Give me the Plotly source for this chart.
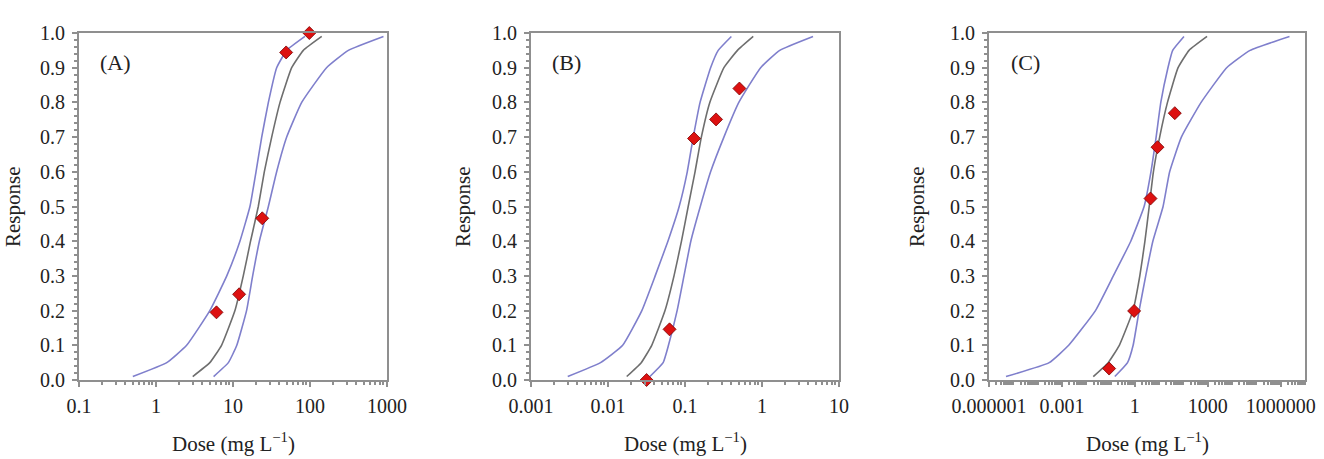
import plotly.graph_objects as go

# Response levels at which the fitted / confidence curves are tabulated
levels = [0.01, 0.05, 0.1, 0.2, 0.3, 0.4, 0.5, 0.6, 0.7, 0.8, 0.9, 0.95, 0.99]

# Panel A
a_obs_dose = [6.1, 12.0, 24.0, 49.0, 98.0]
a_obs_resp = [0.195, 0.247, 0.466, 0.944, 1.0]
a_fit = [3.0, 5.0, 7.1, 10.6, 13.6, 16.9, 21.3, 25.5, 31.8, 40.8, 57.8, 82.0, 142.0]
a_lower = [0.50, 1.38, 2.5, 5.0, 8.3, 12.3, 16.6, 19.9, 23.6, 28.8, 36.9, 49.8, 86.0]
a_upper = [5.6, 8.7, 11.2, 15.0, 18.0, 22.0, 28.8, 36.9, 49.8, 78.0, 164.0, 315.0, 900.0]

# Panel B
b_obs_dose = [0.0317, 0.063, 0.131, 0.253, 0.509]
b_obs_resp = [0.0, 0.146, 0.696, 0.751, 0.840]
b_fit = [0.0175, 0.027, 0.037, 0.055, 0.072, 0.090, 0.110, 0.135, 0.163, 0.21, 0.32, 0.48, 0.77]
b_lower = [0.003, 0.008, 0.0155, 0.0275, 0.041, 0.060, 0.084, 0.107, 0.128, 0.157, 0.215, 0.27, 0.40]
b_upper = [0.035, 0.052, 0.061, 0.079, 0.097, 0.119, 0.158, 0.215, 0.32, 0.50, 0.96, 1.7, 4.6]

# Panel C
c_obs_dose = [0.0875, 0.935, 4.4, 8.55, 44.0]
c_obs_resp = [0.033, 0.199, 0.523, 0.671, 0.769]
c_fit = [0.0195, 0.08, 0.23, 0.84, 1.6, 2.6, 3.9, 5.8, 10.5, 22.0, 60.0, 170.0, 935.0]
c_lower = [5e-6, 3e-4, 1.9e-3, 0.024, 0.13, 0.68, 2.4, 4.6, 7.5, 11.7, 23.0, 36.0, 105.0]
c_upper = [0.15, 0.5, 0.85, 1.5, 2.8, 5.5, 14.5, 27.0, 82.0, 532.0, 6000.0, 55000.0, 2.3e6]

labels = ["(A)", "(B)", "(C)"]
a_ticks = [0.1, 1, 10, 100, 1000]
a_ticktext = ["0.1", "1", "10", "100", "1000"]
b_ticks = [0.001, 0.01, 0.1, 1, 10]
b_ticktext = ["0.001", "0.01", "0.1", "1", "10"]
c_ticks = [1e-6, 1e-3, 1, 1e3, 1e6]
c_ticktext = ["0.000001", "0.001", "1", "1000", "1000000"]
y_ticks = [0.0, 0.1, 0.2, 0.3, 0.4, 0.5, 0.6, 0.7, 0.8, 0.9, 1.0]

BLUE = "#7f7fcc"
GRAY = "#6e6e6e"
RED = "#dd1111"
FRAME = "#8f8f8f"
FONT = "Liberation Serif, Times New Roman, serif"
TXT = "#222222"

panels = [
    dict(obs_x=a_obs_dose, obs_y=a_obs_resp, fit=a_fit, lo=a_lower, hi=a_upper,
         ticks=a_ticks, text=a_ticktext, rng=[-1, 3], dom=[79, 387], ytx=13),
    dict(obs_x=b_obs_dose, obs_y=b_obs_resp, fit=b_fit, lo=b_lower, hi=b_upper,
         ticks=b_ticks, text=b_ticktext, rng=[-3, 1], dom=[531, 839], ytx=463),
    dict(obs_x=c_obs_dose, obs_y=c_obs_resp, fit=c_fit, lo=c_lower, hi=c_upper,
         ticks=c_ticks, text=c_ticktext, rng=[-6, 7], dom=[989, 1305], ytx=917),
]

W, H = 1324, 459
fig = go.Figure()
ydom = [1 - 380 / H, 1 - 33 / H]

for i, p in enumerate(panels):
    sfx = "" if i == 0 else str(i + 1)
    xa, ya = "x" + sfx, "y" + sfx
    for curve, col in [(p["lo"], BLUE), (p["hi"], BLUE), (p["fit"], GRAY)]:
        fig.add_trace(go.Scatter(x=curve, y=levels, mode="lines",
                                 line=dict(color=col, width=1.6, shape="spline", smoothing=0.4),
                                 xaxis=xa, yaxis=ya, showlegend=False))
    fig.add_trace(go.Scatter(x=p["obs_x"], y=p["obs_y"], mode="markers",
                             marker=dict(symbol="diamond", size=10, color=RED,
                                         line=dict(color="#7a0000", width=0.8)),
                             xaxis=xa, yaxis=ya, showlegend=False, cliponaxis=False))
    axis_common = dict(showline=True, linecolor=FRAME, linewidth=2, mirror=True,
                       showgrid=False, zeroline=False, ticks="outside",
                       tickcolor=FRAME, tickwidth=1.5, automargin=False,
                       tickfont=dict(family=FONT, size=20, color=TXT))
    fig.update_layout(**{
        "xaxis" + sfx: dict(axis_common, type="log", range=p["rng"],
                            domain=[p["dom"][0] / W, p["dom"][1] / W],
                            tickvals=p["ticks"], ticktext=p["text"], ticklen=5,
                            ticklabelstandoff=2,
                            minor=dict(ticks="outside", ticklen=3, tickcolor=FRAME, dtick="D1"),
                            anchor=ya),
        "yaxis" + sfx: dict(axis_common, range=[0, 1], domain=ydom,
                            tickvals=y_ticks, tickformat=".1f",
                            ticklen=5, ticklabelstandoff=3,
                            minor=dict(ticks="outside", ticklen=3, tickcolor=FRAME, dtick=0.02),
                            anchor=xa),
    })
    fig.add_annotation(text=labels[i], x=0.062, y=0.916, xref=xa + " domain", yref=ya + " domain",
                       xanchor="left", yanchor="middle", showarrow=False,
                       font=dict(family=FONT, size=22, color=TXT))
    # axis titles
    fig.add_annotation(text="Response", x=p["ytx"] / W, y=1 - 207 / H, xref="paper", yref="paper",
                       textangle=-90, xanchor="center", yanchor="middle", showarrow=False,
                       font=dict(family=FONT, size=21, color=TXT))
    fig.add_annotation(text="Dose (mg L<sup>−1</sup>)", x=(p["dom"][0] + p["dom"][1]) / 2 / W,
                       y=1 - 442 / H, xref="paper", yref="paper",
                       xanchor="center", yanchor="middle", showarrow=False,
                       font=dict(family=FONT, size=21, color=TXT))

fig.update_layout(width=W, height=H, margin=dict(l=0, r=0, t=0, b=0),
                  paper_bgcolor="white", plot_bgcolor="white")
fig.write_html("out.html")
